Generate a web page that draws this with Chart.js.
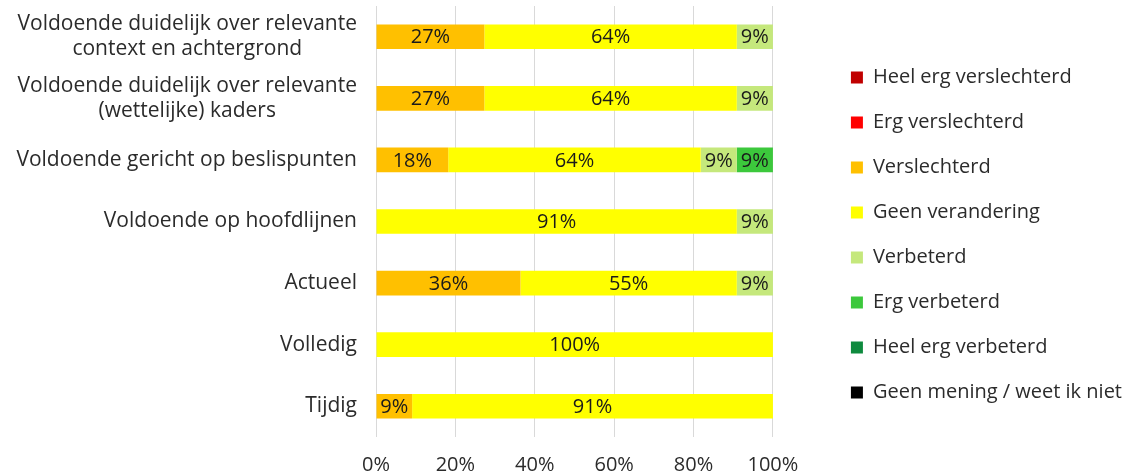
<!DOCTYPE html>
<html>
<head>
<meta charset="utf-8">
<script src="https://cdn.jsdelivr.net/npm/chart.js@4/dist/chart.umd.min.js"></script>
<style>
  html, body { margin: 0; padding: 0; background: #fff; }
  #wrap { width: 1132px; height: 476px; }
</style>
</head>
<body>
<div id="wrap"><canvas id="myChart" width="1132" height="476"></canvas></div>
<script>
// categorieen (van boven naar beneden)
var categories = [
    ["Voldoende duidelijk over relevante", "context en achtergrond"],
    ["Voldoende duidelijk over relevante", "(wettelijke) kaders"],
    "Voldoende gericht op beslispunten",
    "Voldoende op hoofdlijnen",
    "Actueel",
    "Volledig",
    "Tijdig"
];

// percentages per antwoord
var heelErgVerslechterd = [0, 0, 0, 0, 0, 0, 0];
var ergVerslechterd     = [0, 0, 0, 0, 0, 0, 0];
var verslechterd        = [27.3, 27.3, 18.2, 0, 36.4, 0, 9.1];
var geenVerandering     = [63.6, 63.6, 63.6, 90.9, 54.5, 100, 90.9];
var verbeterd           = [9.1, 9.1, 9.1, 9.1, 9.1, 0, 0];
var ergVerbeterd        = [0, 0, 9.1, 0, 0, 0, 0];
var heelErgVerbeterd    = [0, 0, 0, 0, 0, 0, 0];
var geenMening          = [0, 0, 0, 0, 0, 0, 0];

var xTicks = [0, 20, 40, 60, 80, 100];

var fontFam = "'Open Sans', Lato, sans-serif";
var textColor = '#2b2b2b';

function ds(label, values, color) {
    return { label: label, data: values, backgroundColor: color, borderWidth: 0 };
}

var data = {
    labels: categories,
    datasets: [
        ds("Heel erg verslechterd", heelErgVerslechterd, "#c00000"),
        ds("Erg verslechterd", ergVerslechterd, "#ff0000"),
        ds("Verslechterd", verslechterd, "#ffc000"),
        ds("Geen verandering", geenVerandering, "#ffff00"),
        ds("Verbeterd", verbeterd, "#c5e87c"),
        ds("Erg verbeterd", ergVerbeterd, "#3cc83c"),
        ds("Heel erg verbeterd", heelErgVerbeterd, "#0e8a3e"),
        ds("Geen mening / weet ik niet", geenMening, "#000000")
    ]
};

// percentages in de balken
var barLabels = {
    id: 'barLabels',
    afterDatasetsDraw: function(chart) {
        var ctx = chart.ctx;
        ctx.save();
        ctx.font = "20px " + fontFam;
        ctx.fillStyle = '#1a1a1a';
        ctx.textAlign = 'center';
        ctx.textBaseline = 'middle';
        chart.data.datasets.forEach(function(set, di) {
            var meta = chart.getDatasetMeta(di);
            meta.data.forEach(function(bar, i) {
                var v = set.data[i];
                if (!v) return;
                ctx.fillText(Math.round(v) + '%', (bar.x + bar.base) / 2, bar.y + 1);
            });
        });
        ctx.restore();
    }
};

// categorie-labels, meerdere regels gecentreerd zoals in Excel
var catLabels = {
    id: 'catLabels',
    afterDraw: function(chart) {
        var scale = chart.scales.y;
        var ctx = chart.ctx;
        ctx.save();
        ctx.font = "21px " + fontFam;
        ctx.fillStyle = textColor;
        ctx.textAlign = 'center';
        ctx.textBaseline = 'middle';
        var lh = 25;
        categories.forEach(function(c, i) {
            var lines = [].concat(c);
            var w = 0;
            lines.forEach(function(l) { w = Math.max(w, ctx.measureText(l).width); });
            var cx = scale.right - 19 - w / 2;
            var y0 = scale.getPixelForTick(i) - (lines.length - 1) * lh / 2;
            lines.forEach(function(l, k) { ctx.fillText(l, cx, y0 + k * lh); });
        });
        ctx.restore();
    }
};

// legenda iets hoger zetten
var legendShift = {
    id: 'legendShift',
    afterLayout: function(chart) {
        chart.legend.top -= 6;
        chart.legend.bottom -= 6;
    }
};

var options = {
    indexAxis: 'y',
    responsive: false,
    animation: false,
    layout: { padding: { top: 6, left: 0, right: 0, bottom: 0 } },
    datasets: { bar: { categoryPercentage: 0.4, barPercentage: 1 } },
    plugins: {
        legend: {
            display: true,
            position: 'right',
            maxWidth: 400,
            labels: {
                boxWidth: 12,
                boxHeight: 12,
                padding: 25,
                color: textColor,
                font: { family: fontFam, size: 20 }
            }
        },
        tooltip: { enabled: false }
    },
    scales: {
        x: {
            stacked: true,
            min: 0,
            max: 100,
            border: { display: false },
            grid: { color: '#d9d9d9', drawTicks: false },
            afterBuildTicks: function(s) { s.ticks = xTicks.map(function(v) { return { value: v }; }); },
            ticks: {
                color: textColor,
                padding: 16,
                font: { family: fontFam, size: 20 },
                callback: function(v) { return v + '%'; }
            },
            afterFit: function(s) { s.height = 39; }
        },
        y: {
            stacked: true,
            border: { display: false },
            grid: { display: false, drawTicks: false },
            ticks: { padding: 0, font: { size: 1 }, callback: function() { return ''; } },
            afterFit: function(s) { s.width = 376; }
        },
        gap: {
            type: 'category',
            position: 'right',
            labels: [''],
            border: { display: false },
            grid: { display: false, drawTicks: false },
            ticks: { display: false },
            afterFit: function(s) { s.width = 53; }
        }
    }
};

var ctx = document.getElementById('myChart').getContext('2d');
var myChart = new Chart(ctx, {
    type: 'bar',
    data: data,
    options: options,
    plugins: [barLabels, catLabels, legendShift]
});
</script>
</body>
</html>
